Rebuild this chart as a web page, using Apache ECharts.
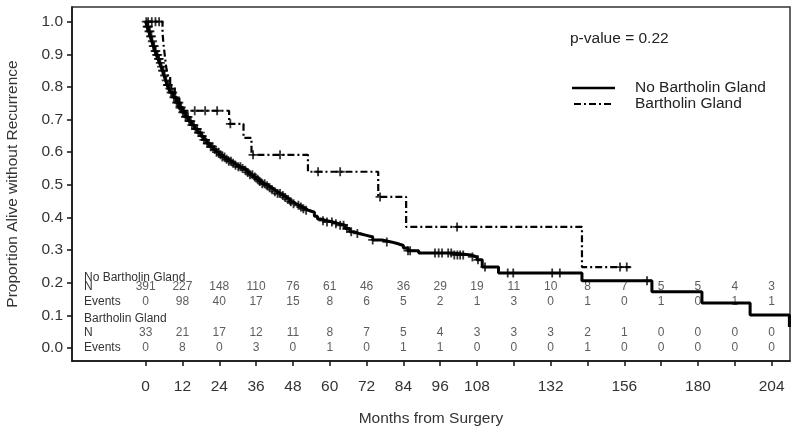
<!DOCTYPE html>
<html><head><meta charset="utf-8">
<script src="https://cdn.jsdelivr.net/npm/echarts@6/dist/echarts.min.js"></script>
<style>html,body{margin:0;padding:0;background:#fff}#c{width:800px;height:434px}</style>
</head><body><div id="c"></div>
<script>
// ---- data ----
const riskMonths = [0,12,24,36,48,60,72,84,96,108,120,132,144,156,168,180,192,204];
const noBartN      = [391,227,148,110,76,61,46,36,29,19,11,10,8,7,5,5,4,3];
const noBartEvents = [0,98,40,17,15,8,6,5,2,1,3,0,1,0,1,0,1,1];
const bartN        = [33,21,17,12,11,8,7,5,4,3,3,3,2,1,0,0,0,0];
const bartEvents   = [0,8,0,3,0,1,0,1,1,0,0,0,1,0,0,0,0,0];

const xTickValues  = [0,12,24,36,48,60,72,84,96,108,120,132,144,156,168,180,192,204];
const xLabelValues = [0,12,24,36,48,60,72,84,96,108,132,156,180,204];
const yTickValues  = [0,0.1,0.2,0.3,0.4,0.5,0.6,0.7,0.8,0.9,1.0];

// Kaplan-Meier steps [month, survival after step]
const noBartCurve = [
 [0,1.0],[0.5,0.985],[1,0.97],[1.5,0.955],[2,0.94],[2.5,0.925],[3,0.91],[3.5,0.898],[4,0.886],[4.5,0.874],
 [5,0.862],[5.5,0.85],[6,0.835],[6.5,0.82],[7,0.806],[7.5,0.795],[8,0.783],[9,0.768],[10,0.752],[11,0.737],
 [12,0.722],[13,0.708],[14,0.695],[15,0.683],[16,0.671],[17,0.66],[18,0.649],[19,0.638],[20,0.627],[21,0.617],
 [22,0.608],[23,0.6],[24,0.592],[25,0.585],[26,0.578],[27,0.572],[28,0.566],[29,0.56],[30,0.555],[31,0.55],
 [32,0.545],[33,0.538],[34,0.531],[35,0.524],[36,0.517],[37,0.51],[38,0.503],[39,0.497],[40,0.491],[41,0.485],
 [42,0.479],[43,0.473],[44,0.467],[45,0.461],[46,0.455],[47,0.448],[48,0.442],[49,0.437],[50,0.432],[51,0.427],
 [52,0.422],[53,0.416],[55,0.404],[56,0.395],[57,0.39],[59,0.386],[61,0.381],[63,0.376],[65,0.366],[66.5,0.356],
 [68,0.351],[69.5,0.345],[72,0.34],[74,0.331],[77,0.325],[80,0.32],[82,0.314],[84,0.306],[85.5,0.298],[89,0.291],
 [100,0.285],[106,0.279],[108,0.27],[109.7,0.248],[115,0.23],[142.2,0.206],[165,0.172],[181.3,0.138],[197,0.101],[209.8,0.064]
];
const bartCurve = [
 [0,1.0],[5.5,0.967],[5.8,0.933],[6.2,0.9],[6.6,0.867],[7.2,0.833],[8,0.8],[9.5,0.767],[11,0.727],
 [27.2,0.687],[31.9,0.644],[34.5,0.592],[52.9,0.54],[75.8,0.463],[84.9,0.371],[142.2,0.248],[158,0.248]
];
const noBartCensorMonths = [0.2,0.5,0.7,0.9,1.1,1.4,1.6,1.9,2.2,2.5,2.8,3.1,3.3,3.6,3.9,4.2,4.4,4.8,5.2,5.5,5.8,6.2,
 6.7,7.1,7.4,7.9,8.3,8.8,9.2,9.7,10.1,10.5,10.8,11.2,11.6,12.1,12.5,13,13.4,13.8,14.2,14.7,15.1,15.7,16.3,16.8,17.2,
 17.8,18.4,19,19.5,20.1,20.6,21.2,21.8,22.5,23.1,23.8,24.4,25,25.7,26.4,27.1,27.8,28.5,29.3,30.2,30.9,31.6,32.5,
 33.3,34,34.8,35.6,36.5,37.2,38,38.8,39.6,40.4,41.2,42.1,43,43.8,44.7,45.5,46.4,47.3,48.2,49.8,50.6,51.4,52.3,57.8,
 59.1,60.7,62,63.4,64.5,65.6,67,69,74,78.6,85.5,86.2,94.3,95.5,96.6,98.6,99.6,100.6,101.6,102.5,103.5,106.5,108.3,
 110.6,118,119.8,132.5,135,163.4];
const bartCensorMonths = [0.8,2,3.2,4.4,16,19.4,23.3,27.6,35,43.8,56.2,63.4,76.4,101.5,154.6,156.8];

// ---- layout/style ----
const FONT = 'Liberation Sans, Arial, sans-serif';
const rowY = {hdr1:0.2145, n1:0.187, e1:0.141, hdr2:0.089, n2:0.046, e2:0.0};
const plusPath = 'path://M4,0h2v4h4v2h-4v4h-2v-4h-4v-2h4z';

function survAt(curve, t){ let s = curve[0][1]; for (const p of curve){ if (p[0] <= t) s = p[1]; } return s; }
function riskSeries(values, y){
  return {
    type:'scatter', z:2, silent:true, symbol:'circle', symbolSize:0.1,
    itemStyle:{color:'rgba(0,0,0,0)'},
    data: riskMonths.map((m,i)=>[m, y, values[i]]),
    label:{show:true, position:'inside', formatter:p=>String(p.value[2]), fontSize:12, color:'#333', fontFamily:FONT}
  };
}

const chart = echarts.init(document.getElementById('c'), null, {renderer:'canvas'});
chart.setOption({
  animation:false,
  backgroundColor:'#fff',
  grid:{left:72, right:10, top:7, bottom:73, show:true, borderColor:'#333', borderWidth:1.5,
        backgroundColor:'transparent', outerBoundsMode:'none', containLabel:false},
  xAxis:{
    type:'value', min:-24, max:210,
    axisLine:{show:true, onZero:false, lineStyle:{color:'#111', width:1.5}},
    axisTick:{show:true, customValues:xTickValues, length:5, lineStyle:{color:'#111', width:1.5}},
    axisLabel:{customValues:xLabelValues, fontSize:15.5, color:'#333', margin:18, fontFamily:FONT},
    splitLine:{show:false},
    name:'Months from Surgery', nameLocation:'middle', nameGap:50,
    nameTextStyle:{fontSize:15.5, color:'#333', fontFamily:FONT}
  },
  yAxis:{
    type:'value', min:-0.04, max:1.045,
    axisLine:{show:true, onZero:false, lineStyle:{color:'#111', width:1.5}},
    axisTick:{show:true, customValues:yTickValues, length:5, lineStyle:{color:'#111', width:1.5}},
    axisLabel:{customValues:yTickValues, formatter:v=>v.toFixed(1), fontSize:15.5, color:'#333', margin:9, fontFamily:FONT},
    splitLine:{show:false},
    name:'Proportion Alive without Recurrence', nameLocation:'middle', nameGap:51,
    nameTextStyle:{fontSize:15.5, color:'#333', fontFamily:FONT}
  },
  series:[
    {name:'No Bartholin Gland', type:'line', step:'end', symbol:'none', z:5, silent:true,
     lineStyle:{color:'#000', width:3}, data:noBartCurve},
    {name:'Bartholin Gland', type:'line', step:'end', symbol:'none', z:5, silent:true,
     lineStyle:{color:'#000', width:2.2, type:[7,3,2,3]}, data:bartCurve},
    {type:'scatter', z:6, silent:true, symbol:plusPath, symbolSize:9, itemStyle:{color:'#000'},
     data:noBartCensorMonths.map(t=>[t, survAt(noBartCurve,t)])},
    {type:'scatter', z:6, silent:true, symbol:plusPath, symbolSize:9, itemStyle:{color:'#000'},
     data:bartCensorMonths.map(t=>[t, survAt(bartCurve,t)])},
    riskSeries(noBartN, rowY.n1),
    riskSeries(noBartEvents, rowY.e1),
    riskSeries(bartN, rowY.n2),
    riskSeries(bartEvents, rowY.e2)
  ]
});

const py = v => chart.convertToPixel({gridIndex:0}, [0, v])[1];
const hdrX = 84;
function txt(x, y, s, size, color){
  return {type:'text', x:x, y:y, silent:true, z:10,
    style:{text:s, fontSize:size, fontFamily:FONT, fill:color||'#333', verticalAlign:'middle', align:'left'}};
}
chart.setOption({
  graphic:[
    txt(hdrX, py(rowY.hdr1), 'No Bartholin Gland', 12),
    txt(hdrX, py(rowY.n1), 'N', 12),
    txt(hdrX, py(rowY.e1), 'Events', 12),
    txt(hdrX, py(rowY.hdr2), 'Bartholin Gland', 12),
    txt(hdrX, py(rowY.n2), 'N', 12),
    txt(hdrX, py(rowY.e2), 'Events', 12),
    txt(570, 39, 'p-value = 0.22', 15.5, '#222'),
    {type:'line', silent:true, z:10, shape:{x1:572,y1:88,x2:615,y2:88}, style:{stroke:'#000', lineWidth:2.5}},
    txt(635, 88, 'No Bartholin Gland', 15.5, '#222'),
    {type:'line', silent:true, z:10, shape:{x1:574,y1:104,x2:614,y2:104}, style:{stroke:'#000', lineWidth:2, lineDash:[7,3,2,3]}},
    txt(635, 104, 'Bartholin Gland', 15.5, '#222')
  ]
});
</script>
</body></html>
